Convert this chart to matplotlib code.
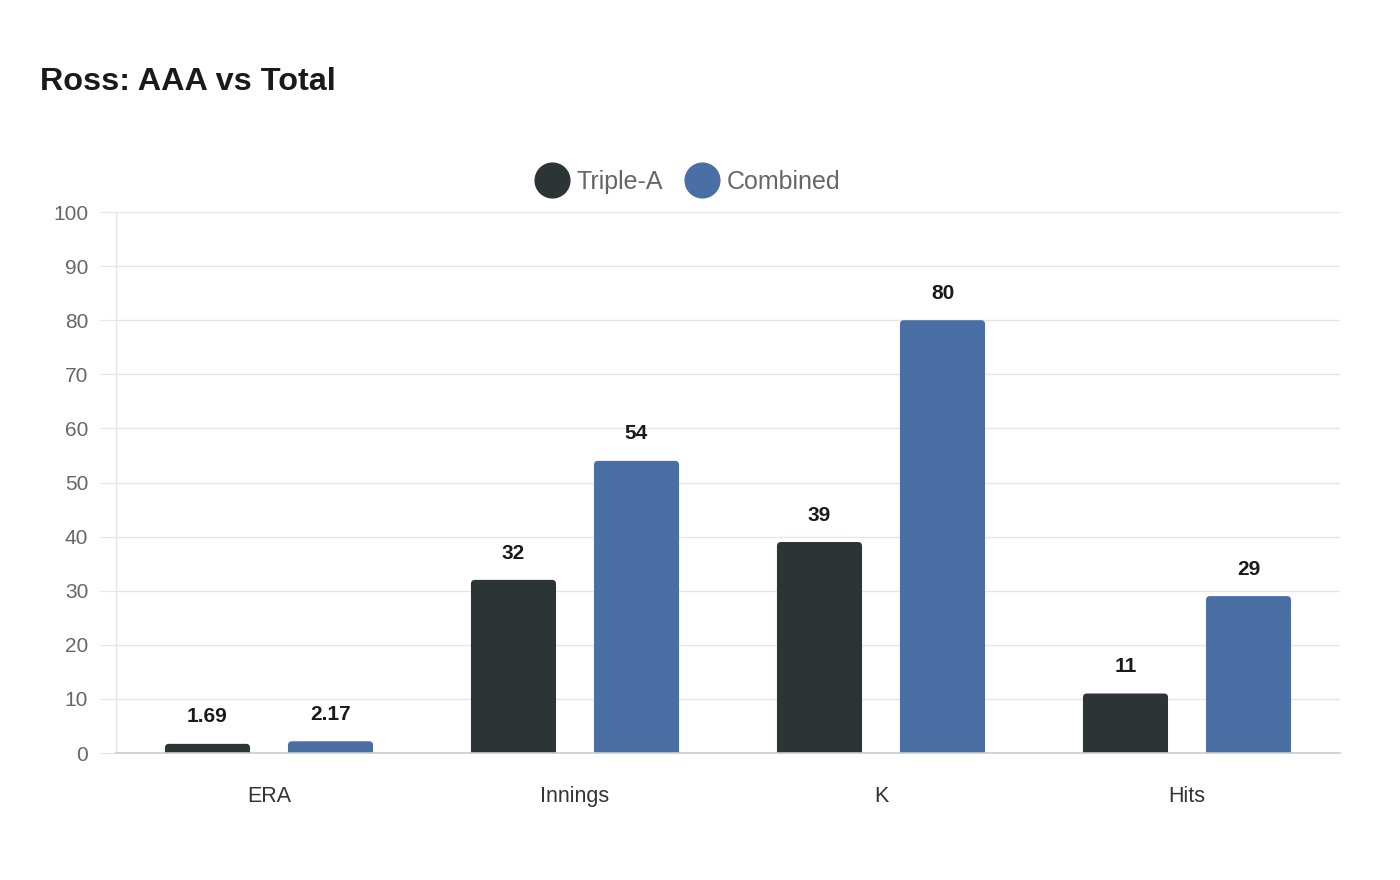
import matplotlib
matplotlib.use("Agg")
import matplotlib.pyplot as plt
import numpy as np
from matplotlib.patches import FancyBboxPatch
from matplotlib.lines import Line2D

categories = ["ERA", "Innings", "K", "Hits"]
triple_a = [1.69, 32, 39, 11]
combined = [2.17, 54, 80, 29]
triple_a_labels = ["1.69", "32", "39", "11"]
combined_labels = ["2.17", "54", "80", "29"]
series_names = ["Triple-A", "Combined"]
yticks = [0, 10, 20, 30, 40, 50, 60, 70, 80, 90, 100]

plt.rcParams['font.family'] = ['Liberation Sans', 'DejaVu Sans']

C_DARK = "#2d3436"
C_BLUE = "#4a6fa5"

fig = plt.figure(figsize=(14, 8.8), dpi=100)
ax_w_px, ax_h_px = 1224, 541
ax = fig.add_axes([116/1400, 1-753/880, ax_w_px/1400, ax_h_px/880])

x = np.arange(len(categories))
off = 0.201
w = 0.278
ax.set_xlim(-0.5, 3.5)
ax.set_ylim(0, 100)

rad_px = 4
rx = rad_px * 4.0 / ax_w_px
ry = rad_px * 100.0 / ax_h_px

def rounded_bars(xs, hs, color):
    bars = ax.bar(xs, hs, width=w, color=color, zorder=3)
    for b in bars:
        x0, bw, h = b.get_x(), b.get_width(), b.get_height()
        b.set_visible(False)
        p = FancyBboxPatch((x0, -2 * ry), bw, h + 2 * ry,
                           boxstyle=f"round,pad=0,rounding_size={rx}",
                           mutation_aspect=ry / rx,
                           facecolor=color, edgecolor="none", zorder=3)
        ax.add_patch(p)

rounded_bars(x - off, triple_a, C_DARK)
rounded_bars(x + off, combined, C_BLUE)

for xs, vals, labs in [(x - off, triple_a, triple_a_labels), (x + off, combined, combined_labels)]:
    for xi, v, lab in zip(xs, vals, labs):
        ax.annotate(lab, (xi, v), xytext=(0, 12.5), textcoords="offset points",
                    ha="center", va="bottom", fontsize=15, fontweight="bold", color="#1a1a1a")

ax.set_yticks(yticks)
ax.set_yticklabels([str(t) for t in yticks])
ax.set_xticks(x)
ax.set_xticklabels(categories)
ax.grid(axis="y", color="#e6e6e6", linewidth=1, zorder=0)
ax.set_axisbelow(True)
for s in ["top", "right"]:
    ax.spines[s].set_visible(False)
ax.spines["left"].set_color("#e6e6e6")
ax.spines["left"].set_linewidth(1)
ax.spines["bottom"].set_color("#cccccc")
ax.spines["bottom"].set_linewidth(1.2)
ax.spines["bottom"].set_zorder(4)
ax.tick_params(axis="y", length=11.5, color="#e6e6e6", labelsize=15, labelcolor="#666666", pad=8.5)
ax.tick_params(axis="x", length=0, labelsize=15.5, labelcolor="#333333", pad=23.5)

fig.text(40/1400, 1-82/880, "Ross: AAA vs Total", fontsize=23.3, fontweight="bold",
         color="#1a1a1a", ha="left", va="center")

handles = [Line2D([], [], marker="o", linestyle="", markersize=25, color=C_DARK),
           Line2D([], [], marker="o", linestyle="", markersize=25, color=C_BLUE)]
leg = fig.legend(handles, series_names, loc="center", bbox_to_anchor=(688/1400, 1-182/880),
                 ncol=2, frameon=False, fontsize=18, labelcolor="#666666",
                 handletextpad=0.35, columnspacing=0.9, handlelength=1.3)

fig.savefig("out.png", dpi=100, facecolor="white")
